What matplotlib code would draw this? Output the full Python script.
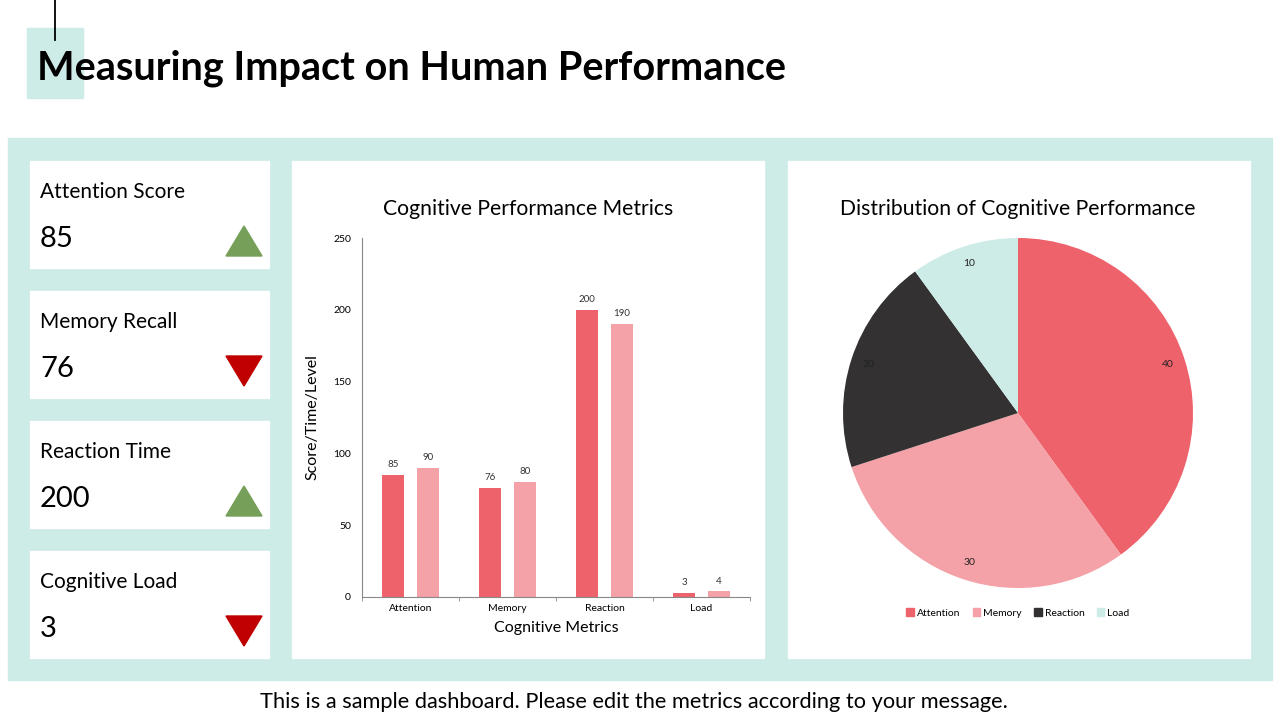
import matplotlib
matplotlib.use("Agg")
import matplotlib.pyplot as plt
from matplotlib.patches import Rectangle, Polygon, Patch

plt.rcParams['font.family'] = ['Lato', 'DejaVu Sans']

# data
categories = ["Attention", "Memory", "Reaction", "Load"]
current = [85, 76, 200, 3]
target = [90, 80, 190, 4]
pie_values = [40, 30, 20, 10]

kpi_labels = ["Attention Score", "Memory Recall", "Reaction Time", "Cognitive Load"]
kpi_values = ["85", "76", "200", "3"]
kpi_trend = ["up", "down", "up", "down"]

RED = "#EE626B"
PINK = "#F4A1A7"
DARK = "#333132"
TEAL = "#CDEBE7"

W, H = 1280, 720
fig = plt.figure(figsize=(12.8, 7.2), dpi=100)
fig.patch.set_facecolor("white")


def px(x0, y0, x1, y1):
    return [x0 / W, 1 - y1 / H, (x1 - x0) / W, (y1 - y0) / H]


bg = fig.add_axes([0, 0, 1, 1])
bg.set_xlim(0, W)
bg.set_ylim(H, 0)
bg.axis("off")

# title block
bg.add_patch(Rectangle((27, 28), 56, 70, color=TEAL, zorder=1))
bg.plot([55, 55], [0, 40], color="black", lw=1.3, zorder=2)
bg.text(37, 68, "Measuring Impact on Human Performance", fontsize=28.5,
        fontweight="bold", va="center", ha="left", zorder=3)

# main panel
bg.add_patch(Rectangle((8, 138), 1264, 542, color=TEAL, zorder=1))
bg.add_patch(Rectangle((292, 161), 472, 497, color="white", zorder=2))
bg.add_patch(Rectangle((788, 161), 462, 497, color="white", zorder=2))

# KPI cards
for i, (lab, val, tr) in enumerate(zip(kpi_labels, kpi_values, kpi_trend)):
    top = 161 + i * 130
    bg.add_patch(Rectangle((30, top), 239, 107, color="white", zorder=2))
    bg.text(40, top + 31, lab, fontsize=15, va="center", ha="left", zorder=3)
    bg.text(40, top + 78, val, fontsize=21, va="center", ha="left", zorder=3)
    if tr == "up":
        tri = [(226, top + 95), (262, top + 95), (244, top + 65)]
        col = "#76A05A"
    else:
        tri = [(226, top + 65), (262, top + 65), (244, top + 95)]
        col = "#C00000"
    bg.add_patch(Polygon(tri, closed=True, color=col, zorder=3))

# footer
bg.text(634, 702, "This is a sample dashboard. Please edit the metrics according to your message.",
        fontsize=15.7, ha="center", va="center")

# bar chart
ax = fig.add_axes(px(362, 238, 750, 597))
ax.set_facecolor("none")
x = list(range(len(categories)))
bw = 0.22
ax.bar([i - 0.18 for i in x], current, width=bw, color=RED)
ax.bar([i + 0.18 for i in x], target, width=bw, color=PINK)
for i in x:
    ax.text(i - 0.18, current[i] + 4, str(current[i]), ha="center", va="bottom", fontsize=7, color="#333333")
    ax.text(i + 0.18, target[i] + 4, str(target[i]), ha="center", va="bottom", fontsize=7, color="#333333")
ax.set_xlim(-0.5, 3.5)
ax.set_ylim(0, 250)
ax.set_yticks([0, 50, 100, 150, 200, 250])
ax.set_xticks(x)
ax.set_xticklabels(categories)
ax.set_xticks([-0.5, 0.5, 1.5, 2.5, 3.5], minor=True)
ax.tick_params(axis="x", which="major", length=0, labelsize=7.5, pad=5)
ax.tick_params(axis="x", which="minor", length=3, color="#888888")
ax.tick_params(axis="y", length=0, labelsize=7.5, pad=8)
for s in ["top", "right"]:
    ax.spines[s].set_visible(False)
for s in ["left", "bottom"]:
    ax.spines[s].set_color("#888888")
    ax.spines[s].set_linewidth(0.8)
ax.set_xlabel("Cognitive Metrics", fontsize=11.5, labelpad=6)
ax.set_ylabel("Score/Time/Level", fontsize=11.5, labelpad=10)
bg.text(528, 209, "Cognitive Performance Metrics", fontsize=15.2, ha="center", va="center", zorder=3)

# pie chart
pax = fig.add_axes(px(843, 238, 1193, 588))
total = sum(pie_values)
pax.pie(pie_values, colors=[RED, PINK, DARK, TEAL], startangle=90, counterclock=False,
        autopct=lambda p: f"{p * total / 100:.0f}", pctdistance=0.9,
        textprops={"fontsize": 7.5, "color": "#222222"})
pax.set_xlim(-1, 1)
pax.set_ylim(-1, 1)
pax.set_aspect("equal")
bg.text(1018, 209, "Distribution of Cognitive Performance", fontsize=15.2, ha="center", va="center", zorder=3)
handles = [Patch(color=c) for c in [RED, PINK, DARK, TEAL]]
fig.legend(handles, categories, loc="center", bbox_to_anchor=(1018 / W, 1 - 613 / H), ncol=4,
           frameon=False, fontsize=7.5, handlelength=0.7, handleheight=0.7, handletextpad=0.3,
           columnspacing=1.2)

fig.savefig("out.png", dpi=100)
